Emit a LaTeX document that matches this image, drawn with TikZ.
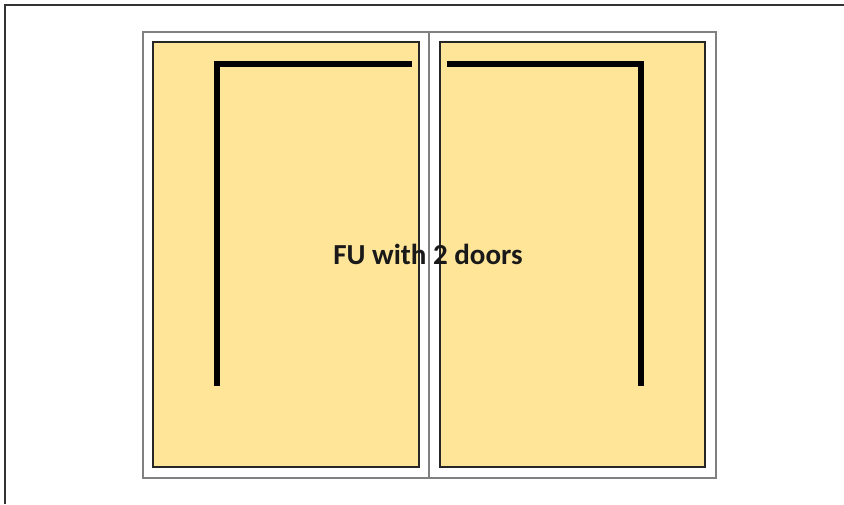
\documentclass[tikz,border=0pt]{standalone}
\usepackage{fontspec}
\setmainfont{Carlito}
\definecolor{doorfill}{HTML}{FFE598}
\definecolor{framegray}{HTML}{808080}
\begin{document}
\begin{tikzpicture}[x=1pt,y=-1pt,
  cabinet/.style={draw=framegray,line width=2pt,fill=white},
  door/.style={draw=black!85,line width=1.1pt,fill=doorfill},
  handle/.style={draw=black,line width=6pt,line cap=butt,line join=miter},
  divider/.style={draw=framegray,line width=2pt}]
\useasboundingbox (0,0) rectangle (844,504);
\fill[white] (0,0) rectangle (844,504);
% outer frame (top and left edges visible)
\draw[black!80,line width=1.8pt] (5,504) -- (5,5) -- (844,5);
% cabinet
\draw[cabinet] (143,32) rectangle (716,478);
% doors
\draw[door] (153,42) rectangle (419,467);
\draw[door] (440,42) rectangle (705,467);
% divider
\draw[divider] (429,32) -- (429,478);
% handles
\coordinate (lb) at (216.5,386);
\coordinate (lc) at (216.5,63.5);
\coordinate (le) at (412,63.5);
\coordinate (rb) at (641,386);
\coordinate (rc) at (641,63.5);
\coordinate (re) at (447,63.5);
\draw[handle] (lb) -- (lc) -- (le);
\draw[handle] (re) -- (rc) -- (rb);
% label
\node[font=\fontsize{29}{34}\selectfont\bfseries,text=black!90] (label) at (428,254) {FU with 2 doors};
\end{tikzpicture}
\end{document}
